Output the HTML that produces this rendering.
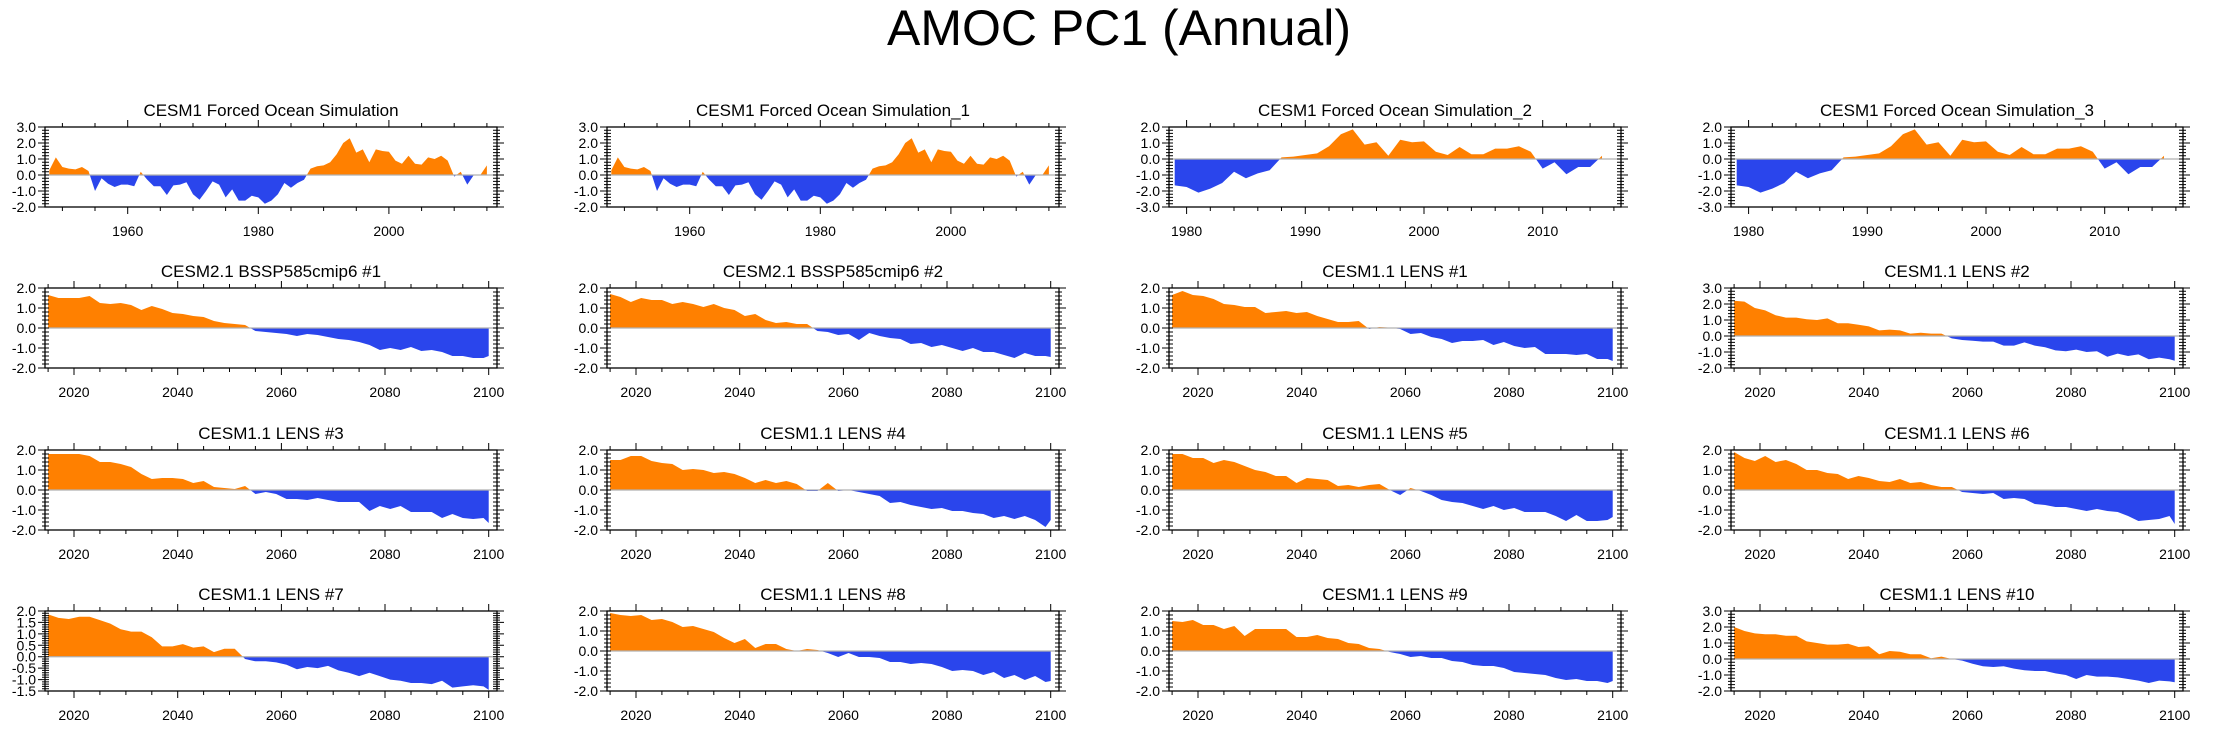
<!DOCTYPE html>
<html><head><meta charset="utf-8"><title>AMOC PC1 (Annual)</title>
<style>
html,body{margin:0;padding:0;background:#fff;}
svg{display:block;font-family:"Liberation Sans",sans-serif;}
</style></head>
<body>
<svg id="chart" width="2238" height="729" viewBox="0 0 2238 729" xmlns="http://www.w3.org/2000/svg">
<text x="1119" y="45" text-anchor="middle" font-size="50" fill="#000">AMOC PC1 (Annual)</text>
</svg>
<script>
// ---- data ----
const yearsObs = []; for (let y = 1948; y <= 2015; y++) yearsObs.push(y);
const yearsObs2 = []; for (let y = 1979; y <= 2015; y++) yearsObs2.push(y);
const yearsFut = []; for (let y = 2015; y <= 2099; y += 2) yearsFut.push(y); yearsFut.push(2100);

const obsForced = [0.3,1.1,0.5,0.4,0.35,0.5,0.25,-1.0,-0.2,-0.55,-0.75,-0.6,-0.6,-0.7,0.2,-0.3,-0.7,-0.7,-1.25,-0.65,-0.6,-0.45,-1.2,-1.55,-1.0,-0.4,-0.6,-1.4,-0.9,-1.6,-1.6,-1.3,-1.4,-1.8,-1.6,-1.2,-0.5,-0.8,-0.5,-0.3,0.4,0.55,0.6,0.8,1.3,2.0,2.3,1.4,1.6,0.8,1.6,1.5,1.45,0.9,0.7,1.2,0.7,0.65,1.1,1.0,1.2,0.9,-0.1,0.2,-0.6,0.0,0.0,0.6];
const obsForced2 = [-1.65,-1.75,-2.1,-1.85,-1.5,-0.8,-1.2,-0.9,-0.7,0.1,0.15,0.25,0.35,0.8,1.55,1.85,0.9,1.05,0.2,1.2,1.05,1.1,0.45,0.25,0.75,0.3,0.3,0.65,0.65,0.8,0.45,-0.6,-0.2,-0.95,-0.5,-0.5,0.2];
const cesm2m1 = [1.65,1.5,1.5,1.5,1.6,1.25,1.2,1.25,1.15,0.9,1.1,0.95,0.75,0.7,0.6,0.55,0.35,0.25,0.2,0.15,-0.15,-0.2,-0.25,-0.3,-0.4,-0.3,-0.35,-0.45,-0.55,-0.6,-0.7,-0.85,-1.1,-1.0,-1.1,-0.95,-1.15,-1.1,-1.2,-1.4,-1.4,-1.5,-1.5,-1.4];
const cesm2m2 = [1.7,1.55,1.3,1.5,1.4,1.4,1.2,1.3,1.2,1.05,1.2,1.0,0.9,0.6,0.7,0.4,0.25,0.3,0.2,0.2,-0.15,-0.2,-0.35,-0.3,-0.6,-0.25,-0.4,-0.5,-0.55,-0.8,-0.75,-0.95,-0.85,-1.0,-1.15,-1.0,-1.2,-1.2,-1.35,-1.5,-1.25,-1.4,-1.4,-1.45];
const lens1 = [1.65,1.85,1.65,1.6,1.45,1.2,1.15,1.05,1.05,0.75,0.8,0.85,0.75,0.8,0.6,0.45,0.3,0.3,0.35,-0.05,0.05,0.02,-0.05,-0.3,-0.25,-0.45,-0.55,-0.75,-0.65,-0.65,-0.6,-0.85,-0.7,-0.9,-1.0,-0.95,-1.3,-1.3,-1.3,-1.35,-1.3,-1.55,-1.55,-1.65];
const lens2 = [2.2,2.15,1.75,1.6,1.3,1.15,1.15,1.05,1.0,1.1,0.8,0.8,0.7,0.6,0.35,0.4,0.35,0.15,0.2,0.15,0.15,-0.15,-0.25,-0.3,-0.35,-0.35,-0.6,-0.6,-0.4,-0.6,-0.7,-0.9,-0.95,-0.85,-1.0,-0.95,-1.3,-1.1,-1.25,-1.15,-1.45,-1.35,-1.45,-1.55];
const lens3 = [1.8,1.8,1.8,1.8,1.7,1.4,1.4,1.3,1.15,0.8,0.55,0.6,0.6,0.55,0.35,0.45,0.15,0.1,0.05,0.2,-0.2,-0.1,-0.2,-0.45,-0.45,-0.5,-0.4,-0.5,-0.6,-0.6,-0.6,-1.05,-0.8,-0.95,-0.8,-1.1,-1.1,-1.1,-1.4,-1.2,-1.4,-1.45,-1.4,-1.65];
const lens4 = [1.5,1.5,1.7,1.7,1.45,1.35,1.3,1.0,1.05,1.0,0.85,0.9,0.8,0.6,0.35,0.5,0.35,0.45,0.3,-0.05,-0.05,0.35,-0.05,0.0,-0.1,-0.2,-0.3,-0.65,-0.6,-0.75,-0.85,-0.95,-0.9,-1.05,-1.05,-1.15,-1.2,-1.4,-1.3,-1.45,-1.3,-1.5,-1.85,-1.5];
const lens5 = [1.8,1.8,1.6,1.6,1.35,1.5,1.4,1.2,1.0,0.9,0.7,0.7,0.35,0.6,0.55,0.5,0.2,0.25,0.15,0.25,0.3,0.0,-0.25,0.1,-0.05,-0.25,-0.5,-0.6,-0.65,-0.8,-0.95,-0.8,-1.0,-0.9,-1.1,-1.1,-1.1,-1.3,-1.55,-1.25,-1.55,-1.55,-1.5,-1.35];
const lens6 = [1.9,1.6,1.45,1.7,1.4,1.5,1.3,1.0,1.0,0.85,0.8,0.55,0.7,0.6,0.45,0.4,0.55,0.35,0.4,0.25,0.15,0.15,-0.1,-0.15,-0.2,-0.15,-0.45,-0.4,-0.45,-0.7,-0.75,-0.85,-0.85,-0.95,-1.05,-0.95,-1.05,-1.1,-1.3,-1.55,-1.5,-1.45,-1.3,-1.7];
const lens7 = [1.85,1.7,1.65,1.75,1.75,1.6,1.45,1.2,1.1,1.1,0.85,0.45,0.45,0.55,0.4,0.45,0.2,0.35,0.35,-0.1,-0.2,-0.2,-0.25,-0.35,-0.55,-0.45,-0.5,-0.4,-0.6,-0.7,-0.85,-0.7,-0.85,-1.0,-1.05,-1.15,-1.15,-1.2,-1.05,-1.35,-1.3,-1.25,-1.3,-1.45];
const lens8 = [1.9,1.8,1.75,1.8,1.55,1.6,1.45,1.2,1.25,1.1,0.95,0.65,0.4,0.6,0.15,0.35,0.35,0.1,0.0,0.1,0.05,-0.1,-0.3,-0.1,-0.3,-0.3,-0.35,-0.55,-0.55,-0.65,-0.6,-0.65,-0.8,-1.0,-0.95,-1.0,-1.2,-1.05,-1.35,-1.2,-1.45,-1.25,-1.55,-1.5];
const lens9 = [1.5,1.45,1.55,1.3,1.3,1.1,1.25,0.75,1.1,1.1,1.1,1.1,0.7,0.7,0.8,0.65,0.6,0.4,0.35,0.15,0.1,-0.05,-0.15,-0.3,-0.25,-0.35,-0.35,-0.5,-0.55,-0.7,-0.75,-0.75,-0.85,-1.05,-1.1,-1.15,-1.2,-1.35,-1.45,-1.4,-1.5,-1.5,-1.6,-1.5];
const lens10 = [2.0,1.75,1.6,1.55,1.55,1.45,1.45,1.1,1.0,0.9,0.9,0.95,0.75,0.8,0.3,0.5,0.45,0.3,0.3,0.05,0.15,0.0,-0.1,-0.3,-0.45,-0.5,-0.45,-0.6,-0.7,-0.75,-0.75,-0.9,-1.0,-1.25,-1.0,-1.1,-1.1,-1.15,-1.25,-1.35,-1.5,-1.35,-1.4,-1.45];

const panelTitles = ["CESM1 Forced Ocean Simulation","CESM1 Forced Ocean Simulation_1","CESM1 Forced Ocean Simulation_2","CESM1 Forced Ocean Simulation_3","CESM2.1 BSSP585cmip6 #1","CESM2.1 BSSP585cmip6 #2","CESM1.1 LENS #1","CESM1.1 LENS #2","CESM1.1 LENS #3","CESM1.1 LENS #4","CESM1.1 LENS #5","CESM1.1 LENS #6","CESM1.1 LENS #7","CESM1.1 LENS #8","CESM1.1 LENS #9","CESM1.1 LENS #10"];
const panelSeries = [obsForced,obsForced,obsForced2,obsForced2,cesm2m1,cesm2m2,lens1,lens2,lens3,lens4,lens5,lens6,lens7,lens8,lens9,lens10];
const panelYears = [yearsObs,yearsObs,yearsObs2,yearsObs2,yearsFut,yearsFut,yearsFut,yearsFut,yearsFut,yearsFut,yearsFut,yearsFut,yearsFut,yearsFut,yearsFut,yearsFut];
const panelYMin = [-2,-2,-3,-3,-2,-2,-2,-2,-2,-2,-2,-2,-1.5,-2,-2,-2];
const panelYMax = [3,3,2,2,2,2,2,3,2,2,2,2,2,2,2,3];
const panelYStep = [1,1,1,1,1,1,1,1,1,1,1,1,0.5,1,1,1];
const xAxisKind = ["obs","obs","obs2","obs2","fut","fut","fut","fut","fut","fut","fut","fut","fut","fut","fut","fut"];

// ---- rendering ----
const NS = "http://www.w3.org/2000/svg";
const svg = document.getElementById("chart");
const ORANGE = "#ff8000", BLUE = "#2a45ec";
const axisDefs = {
  obs:  {min:1947.34, max:2016.55, major:[1960,1980,2000], minorStep:5, minorFrom:1950, minorTo:2015},
  obs2: {min:1978.52, max:2016.6,  major:[1980,1990,2000,2010], minorStep:2, minorFrom:1980, minorTo:2016},
  fut:  {min:2014.4,  max:2101.6,  major:[2020,2040,2060,2080,2100], minorStep:5, minorFrom:2015, minorTo:2100}
};
function mk(tag, attrs, parent){const e=document.createElementNS(NS,tag);for(const k in attrs)e.setAttribute(k,attrs[k]);(parent||svg).appendChild(e);return e;}

const colX = [45,607,1169,1731], rowY = [127,288,450,611], PW = 452, PH = 80;

for (let i = 0; i < 16; i++) {
  const bx = colX[i % 4], by = rowY[Math.floor(i / 4)];
  const ax = axisDefs[xAxisKind[i]];
  const ymin = panelYMin[i], ymax = panelYMax[i];
  const xs = v => bx + (v - ax.min) / (ax.max - ax.min) * PW;
  const ys = v => by + (ymax - v) / (ymax - ymin) * PH;
  const g = mk("g", {});
  
  

  const t = mk("text", {x: bx + PW / 2, y: by - 11, "text-anchor": "middle", "font-size": "17", fill: "#000"}, g);
  t.textContent = panelTitles[i];
  
  

  // clip paths
  const cid = "c" + i;
  const defs = mk("defs", {}, g);
  const cu = mk("clipPath", {id: cid + "u"}, defs);
  mk("rect", {x: bx, y: by, width: PW, height: ys(0) - by}, cu);
  const cl = mk("clipPath", {id: cid + "l"}, defs);
  mk("rect", {x: bx, y: ys(0), width: PW, height: by + PH - ys(0)}, cl);

  const yrs = panelYears[i], vals = panelSeries[i];
  let d = "M" + xs(yrs[0]).toFixed(2) + "," + ys(0).toFixed(2);
  for (let k = 0; k < vals.length; k++) d += " L" + xs(yrs[k]).toFixed(2) + "," + ys(vals[k]).toFixed(2);
  d += " L" + xs(yrs[yrs.length - 1]).toFixed(2) + "," + ys(0).toFixed(2) + " Z";
  const pos = mk("path", {d: d, fill: ORANGE, "clip-path": "url(#" + cid + "u)"}, g);
  
  
  const neg = mk("path", {d: d, fill: BLUE, "clip-path": "url(#" + cid + "l)"}, g);
  
  

  const zl = mk("line", {x1: bx, x2: bx + PW, y1: ys(0), y2: ys(0), stroke: "#b0b0b0", "stroke-width": "1.2"}, g);
  
  

  const box = mk("rect", {x: bx, y: by, width: PW, height: PH, fill: "none", stroke: "#000", "stroke-width": "1.3"}, g);
  
  

  // x ticks
  let tk = "";
  for (let yv = ax.minorFrom; yv <= ax.minorTo; yv += ax.minorStep) {
    const x = xs(yv).toFixed(1);
    tk += "M" + x + "," + (by) + "v-4M" + x + "," + (by + PH) + "v4";
  }
  ax.major.forEach(yv => {
    const x = xs(yv).toFixed(1);
    tk += "M" + x + "," + by + "v-7M" + x + "," + (by + PH) + "v7";
    const lt = mk("text", {x: x, y: by + PH + 29, "text-anchor": "middle", "font-size": "14", fill: "#000"}, g);
    lt.textContent = yv;
    
    
  });
  // y ticks
  const ystepMinor = panelYStep[i] / 5;
  for (let v = ymin; v <= ymax + 1e-6; v += ystepMinor) {
    const y = ys(v).toFixed(1);
    tk += "M" + bx + "," + y + "h4M" + (bx + PW) + "," + y + "h-4M" + bx + "," + y + "h-3M" + (bx + PW) + "," + y + "h3";
  }
  for (let v = ymin; v <= ymax + 1e-6; v += panelYStep[i]) {
    const y = ys(v);
    tk += "M" + bx + "," + y.toFixed(1) + "h-7M" + (bx + PW) + "," + y.toFixed(1) + "h7";
    const lt = mk("text", {x: bx - 9, y: y + 5, "text-anchor": "end", "font-size": "14", fill: "#000"}, g);
    lt.textContent = (Math.abs(v) < 1e-9 ? 0 : v).toFixed(1);
    
    
  }
  const tp = mk("path", {d: tk, stroke: "#000", "stroke-width": "1", fill: "none"}, g);
  
  
}
</script>
</body></html>
